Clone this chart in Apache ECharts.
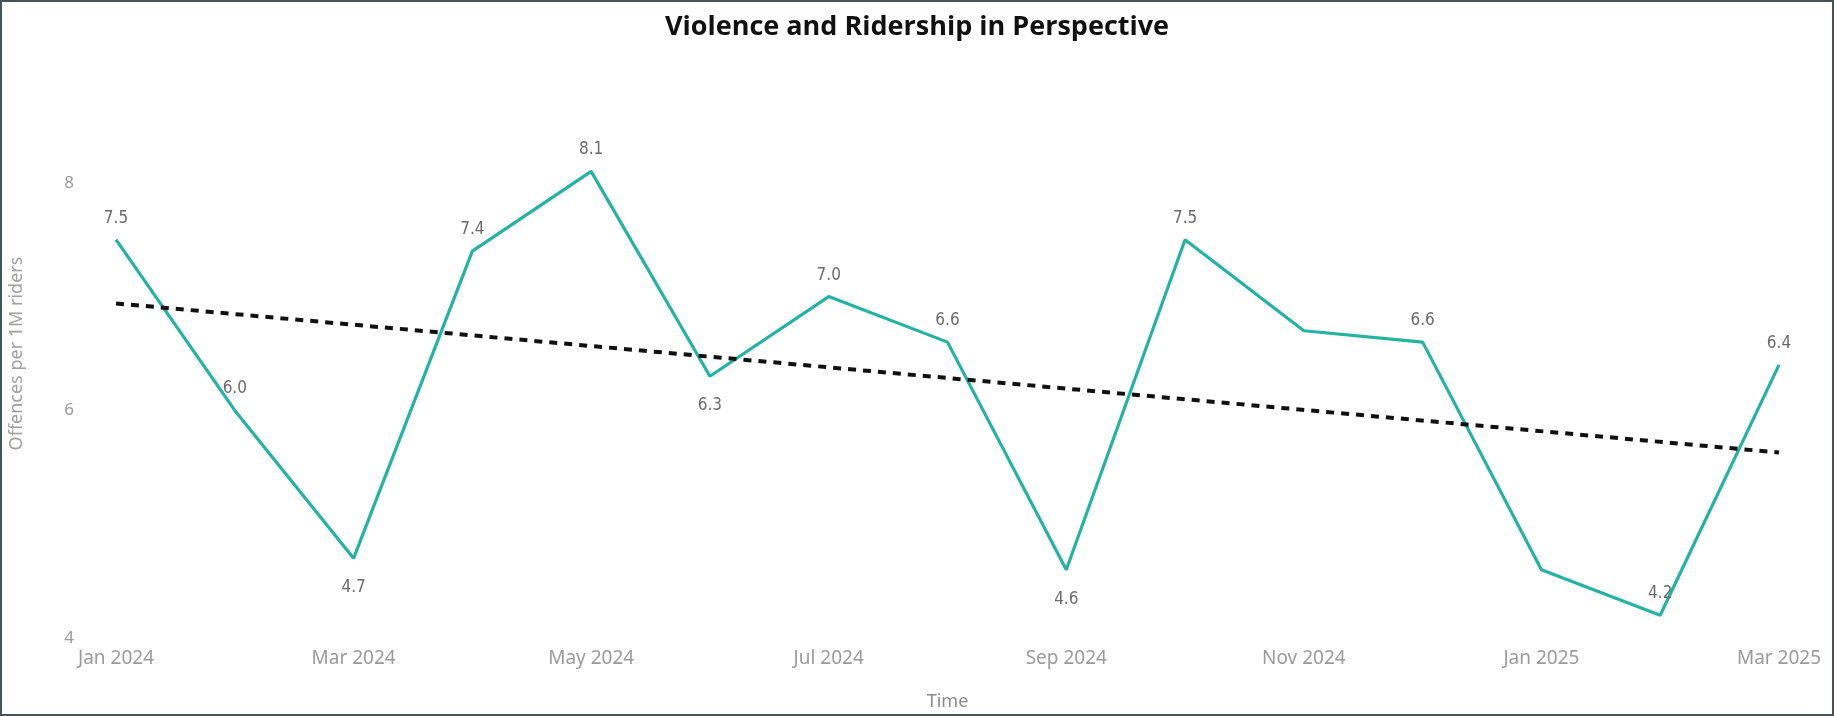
<!DOCTYPE html>
<html>
<head>
<meta charset="utf-8">
<title>Violence and Ridership in Perspective</title>
<script src="https://cdn.jsdelivr.net/npm/echarts@6/dist/echarts.min.js"></script>
<style>
  html, body { margin: 0; padding: 0; background: #fff; }
  #chart { width: 1834px; height: 716px; }
</style>
</head>
<body>
<div id="chart"></div>
<script>
// months on the x axis
const months = ['Jan 2024', 'Feb 2024', 'Mar 2024', 'Apr 2024', 'May 2024', 'Jun 2024', 'Jul 2024',
  'Aug 2024', 'Sep 2024', 'Oct 2024', 'Nov 2024', 'Dec 2024', 'Jan 2025', 'Feb 2025', 'Mar 2025'];

// offences per 1M riders
const offences = [7.5, 6.0, 4.7, 7.4, 8.1, 6.3, 7.0, 6.6, 4.6, 7.5, 6.7, 6.6, 4.6, 4.2, 6.4];

// trend line ends
const trendMonths = ['Jan 2024', 'Mar 2025'];
const trendValues = [6.94, 5.63];

const yTicks = [4, 6, 8];

// labels Power BI left out, and the ones it put under the line
const hiddenLabels = ['Nov 2024', 'Jan 2025'];
const labelsBelow = ['Mar 2024', 'Jun 2024', 'Sep 2024'];

const labelFont = "'DejaVu Sans Condensed', Roboto, sans-serif";
const axisFont = "'Noto Sans', sans-serif";

const getOption = () => {
  const lineData = offences.map((v, i) => {
    const m = months[i];
    return {
      value: v,
      label: {
        show: !hiddenLabels.includes(m),
        position: labelsBelow.includes(m) ? 'bottom' : 'top',
        distance: labelsBelow.includes(m) ? 21 : 13
      }
    };
  });

  return {
    animation: false,
    title: {
      text: 'Violence and Ridership in Perspective',
      left: 'center',
      top: 9,
      textStyle: { fontSize: 27, fontWeight: 'bold', color: '#111', fontFamily: "'Open Sans', sans-serif" }
    },
    graphic: [{
      type: 'rect',
      shape: { x: 1, y: 1, width: 1832, height: 714 },
      style: { fill: 'none', stroke: '#44545a', lineWidth: 2 },
      silent: true
    }],
    grid: { left: 113, right: 55, top: 69, bottom: 75 },
    xAxis: {
      type: 'category',
      data: months,
      boundaryGap: false,
      name: 'Time',
      nameLocation: 'middle',
      nameGap: 55,
      nameTextStyle: { color: '#8a8a8a', fontSize: 18, fontFamily: axisFont },
      axisLine: { show: false },
      axisTick: { show: false },
      axisLabel: {
        interval: 1,
        color: '#9a9a9a',
        fontSize: 19,
        margin: 11,
        fontFamily: axisFont
      },
      splitLine: { show: false }
    },
    yAxis: {
      type: 'value',
      min: yTicks[0],
      max: 9,
      interval: yTicks[1] - yTicks[0],
      name: 'Offences per 1M riders',
      nameLocation: 'middle',
      nameGap: 90,
      nameTextStyle: { color: '#a0a0a0', fontSize: 18, fontFamily: axisFont },
      axisLine: { show: false },
      axisTick: { show: false },
      axisLabel: {
        color: '#9a9a9a',
        fontSize: 17,
        margin: 42,
        showMaxLabel: false,
        fontFamily: axisFont
      },
      splitLine: { show: false }
    },
    series: [
      {
        name: 'Offences',
        type: 'line',
        data: lineData,
        symbol: 'circle',
        symbolSize: 0,
        showSymbol: true,
        lineStyle: { color: '#24b3a3', width: 3.2 },
        itemStyle: { color: '#24b3a3' },
        label: {
          color: '#6a6a6a',
          fontSize: 17,
          fontFamily: labelFont,
          formatter: (p) => p.value.toFixed(1)
        },
        z: 3
      },
      {
        name: 'Trend',
        type: 'line',
        data: trendMonths.map((m, i) => [m, trendValues[i]]),
        symbol: 'none',
        lineStyle: { color: '#111', width: 4, type: [8, 7] },
        z: 4
      }
    ]
  };
};

let chart;
document.addEventListener('DOMContentLoaded', function () {
  chart = echarts.init(document.getElementById('chart'));
  chart.setOption(getOption());
});

window.addEventListener('resize', function () {
  chart.resize();
});
</script>
</body>
</html>
